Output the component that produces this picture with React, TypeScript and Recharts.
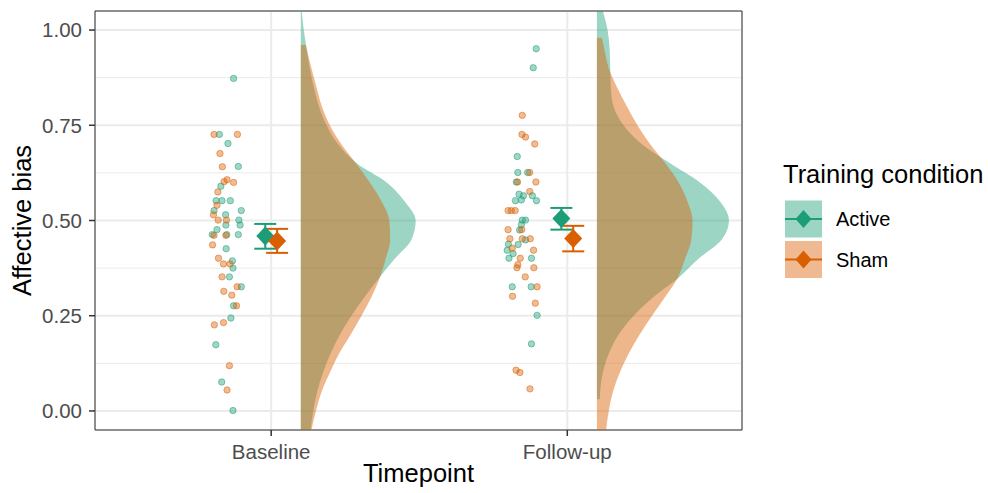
import React from 'react'
import {
  ScatterChart, Scatter, XAxis, YAxis, CartesianGrid, ReferenceArea, ErrorBar, Curve,
} from 'recharts'

const FONT = '"Liberation Sans", Arial, Helvetica, sans-serif'
const GREEN = '#1B9E77'
const ORANGE = '#D95F02'

const timepoints = ['Baseline', 'Follow-up']
const conditions = ['Active', 'Sham']
const yTicks = [0, 0.25, 0.5, 0.75, 1]
const yMinorTicks = [0.125, 0.375, 0.625, 0.875]

// raw scores: [jitter offset from timepoint, affective bias]
const baselineActive = [
  [-0.127, 0.873], [-0.175, 0.726], [-0.146, 0.702], [-0.111, 0.642], [-0.170, 0.590],
  [-0.186, 0.552], [-0.166, 0.552], [-0.138, 0.552], [-0.101, 0.526], [-0.193, 0.526],
  [-0.154, 0.515], [-0.109, 0.501], [-0.153, 0.488], [-0.105, 0.488], [-0.183, 0.476],
  [-0.199, 0.463], [-0.150, 0.463], [-0.111, 0.463], [-0.152, 0.426], [-0.131, 0.394],
  [-0.129, 0.375], [-0.141, 0.352], [-0.101, 0.326], [-0.127, 0.276], [-0.136, 0.244],
  [-0.187, 0.174], [-0.167, 0.076], [-0.129, 0.001],
]
const baselineSham = [
  [-0.193, 0.726], [-0.114, 0.726], [-0.173, 0.676], [-0.165, 0.641], [-0.149, 0.607],
  [-0.159, 0.602], [-0.127, 0.600], [-0.180, 0.575], [-0.183, 0.540], [-0.195, 0.515],
  [-0.179, 0.501], [-0.151, 0.501], [-0.193, 0.461], [-0.153, 0.461], [-0.198, 0.436],
  [-0.178, 0.401], [-0.161, 0.386], [-0.139, 0.386], [-0.166, 0.352], [-0.115, 0.326],
  [-0.160, 0.314], [-0.133, 0.304], [-0.117, 0.276], [-0.192, 0.226], [-0.161, 0.232],
  [-0.141, 0.119], [-0.149, 0.055],
]
const followupActive = [
  [-0.105, 0.951], [-0.115, 0.901], [-0.169, 0.668], [-0.167, 0.626], [-0.134, 0.626],
  [-0.172, 0.601], [-0.163, 0.569], [-0.148, 0.565], [-0.118, 0.565], [-0.175, 0.552],
  [-0.155, 0.554], [-0.104, 0.552], [-0.152, 0.501], [-0.141, 0.501], [-0.155, 0.489],
  [-0.161, 0.475], [-0.141, 0.449], [-0.166, 0.437], [-0.199, 0.438], [-0.203, 0.422],
  [-0.183, 0.413], [-0.197, 0.401], [-0.121, 0.401], [-0.186, 0.326], [-0.122, 0.326],
  [-0.102, 0.251], [-0.121, 0.176],
]
const followupSham = [
  [-0.152, 0.776], [-0.153, 0.726], [-0.141, 0.719], [-0.110, 0.701], [-0.127, 0.626],
  [-0.168, 0.601], [-0.106, 0.601], [-0.127, 0.576], [-0.200, 0.526], [-0.189, 0.526],
  [-0.176, 0.526], [-0.200, 0.476], [-0.154, 0.476], [-0.194, 0.452], [-0.152, 0.452],
  [-0.125, 0.452], [-0.186, 0.427], [-0.114, 0.422], [-0.159, 0.401], [-0.167, 0.384],
  [-0.170, 0.376], [-0.113, 0.376], [-0.142, 0.352], [-0.102, 0.326], [-0.185, 0.301],
  [-0.108, 0.283], [-0.173, 0.107], [-0.160, 0.101], [-0.126, 0.058],
]

// group means and interval bounds, per timepoint
const activeMean = [0.459, 0.505]
const activeLow = [0.426, 0.476]
const activeHigh = [0.491, 0.533]
const shamMean = [0.446, 0.453]
const shamLow = [0.415, 0.419]
const shamHigh = [0.478, 0.486]

// half-violin outlines: value levels and density width at each level
const baselineActiveLevels = [1.05, 1.0, 0.95, 0.9, 0.85, 0.8, 0.75, 0.7, 0.65, 0.6, 0.55, 0.5, 0.45, 0.4, 0.35, 0.3, 0.25, 0.2, 0.15, 0.1, 0.05, 0.0, -0.05]
const baselineActiveDensity = [0.003, 0.010, 0.020, 0.030, 0.044, 0.061, 0.087, 0.126, 0.189, 0.290, 0.351, 0.388, 0.374, 0.318, 0.265, 0.216, 0.171, 0.132, 0.100, 0.075, 0.055, 0.042, 0.033]
const baselineShamLevels = [0.961, 0.95, 0.9, 0.85, 0.8, 0.75, 0.7, 0.65, 0.6, 0.55, 0.5, 0.45, 0.4, 0.35, 0.3, 0.25, 0.2, 0.15, 0.1, 0.05, 0.0, -0.05]
const baselineShamDensity = [0.017, 0.020, 0.036, 0.053, 0.071, 0.098, 0.137, 0.186, 0.233, 0.273, 0.299, 0.302, 0.287, 0.267, 0.239, 0.205, 0.168, 0.129, 0.098, 0.070, 0.051, 0.036]
const followupActiveLevels = [1.05, 1.0, 0.95, 0.9, 0.85, 0.8, 0.75, 0.7, 0.65, 0.6, 0.55, 0.5, 0.45, 0.4, 0.35, 0.3, 0.25, 0.2, 0.15, 0.1, 0.05, 0.031]
const followupActiveDensity = [0.020, 0.036, 0.043, 0.045, 0.047, 0.056, 0.090, 0.152, 0.247, 0.348, 0.416, 0.446, 0.422, 0.344, 0.276, 0.192, 0.124, 0.073, 0.040, 0.020, 0.011, 0.010]
const followupShamLevels = [0.98, 0.95, 0.9, 0.85, 0.8, 0.75, 0.7, 0.65, 0.6, 0.55, 0.5, 0.45, 0.4, 0.35, 0.3, 0.25, 0.2, 0.15, 0.1, 0.05, 0.0, -0.05]
const followupShamDensity = [0.017, 0.025, 0.040, 0.068, 0.101, 0.137, 0.180, 0.231, 0.276, 0.306, 0.323, 0.319, 0.298, 0.273, 0.231, 0.186, 0.144, 0.107, 0.077, 0.054, 0.040, 0.031]

const DODGE = 0.02
const VIOLIN_OFFSET = 0.1

function rawPoints(pts: number[][], t: number) {
  return pts.map(([j, y]) => ({ x: t + j, y }))
}

function meanPoints(mean: number[], low: number[], high: number[], dodge: number) {
  return mean.map((m, i) => ({ x: i + 1 + dodge, y: m, err: [m - low[i], high[i] - m] }))
}

// outline first, then the two points on the violin's base line
function violinPoints(levels: number[], dens: number[], t: number) {
  const base = t + VIOLIN_OFFSET
  const outline = levels.map((y, i) => ({ x: base + dens[i], y }))
  return [...outline, { x: base, y: levels[levels.length - 1] }, { x: base, y: levels[0] }]
}

const violinShape = (color: string, opacity: number) => (props: any) => {
  const pts = props.points
  const outline = pts.slice(0, -2)
  const baseX = pts[pts.length - 1].x
  return (
    <Curve
      points={outline}
      type="monotone"
      layout="vertical"
      baseLine={baseX}
      fill={color}
      fillOpacity={opacity}
      stroke="none"
    />
  )
}

const dot = (color: string) => (p: any) => (
  <circle cx={p.cx} cy={p.cy} r={3.2} fill={color} fillOpacity={0.42}
    stroke={color} strokeOpacity={0.5} strokeWidth={1} />
)

const diamond = (color: string) => (p: any) => (
  <polygon
    points={`${p.cx},${p.cy - 9.5} ${p.cx + 9},${p.cy} ${p.cx},${p.cy + 9.5} ${p.cx - 9},${p.cy}`}
    fill={color}
  />
)

const noSymbol = () => <g />

const tickStyle = { fill: '#4D4D4D', fontSize: 20.5, fontFamily: FONT }

function LegendBox() {
  const colors = [GREEN, ORANGE]
  return (
    <svg width={988} height={493} style={{ position: 'absolute', left: 0, top: 0, pointerEvents: 'none' }}>
      <text x={783} y={183} fontSize={25.5} fontFamily={FONT} fill="#000">Training condition</text>
      {conditions.map((c, i) => {
        const top = 200.5 + i * 40.5
        return (
          <g key={c}>
            <rect x={785} y={top} width={37} height={37} fill={colors[i]} fillOpacity={0.43} />
            <line x1={785} x2={822} y1={top + 18.5} y2={top + 18.5} stroke={colors[i]} strokeWidth={2} />
            <polygon
              points={`803.5,${top + 9.5} 811.5,${top + 18.5} 803.5,${top + 27.5} 795.5,${top + 18.5}`}
              fill={colors[i]}
            />
            <text x={836} y={top + 25.5} fontSize={20} fontFamily={FONT} fill="#000">{c}</text>
          </g>
        )
      })}
    </svg>
  )
}

export default function App() {
  return (
    <div style={{ position: 'absolute', left: 0, top: 0, width: 988, height: 493, background: '#fff' }}>
      <ScatterChart width={988} height={493} margin={{ top: 11, right: 246, bottom: 0, left: 0 }}>
        <CartesianGrid stroke="#EBEBEB" strokeWidth={1} horizontalValues={yMinorTicks} vertical={false} />
        <CartesianGrid stroke="#EBEBEB" strokeWidth={2} />
        <XAxis
          type="number"
          dataKey="x"
          domain={[0.405, 2.59]}
          allowDataOverflow
          ticks={[1, 2]}
          interval={0}
          tickFormatter={(v: number) => timepoints[v - 1]}
          axisLine={false}
          tickSize={6}
          tickMargin={8}
          tickLine={{ stroke: '#333333', strokeWidth: 1.5 }}
          tick={tickStyle}
          height={63}
          label={{ value: 'Timepoint', position: 'insideBottom', offset: 11, fill: '#000', fontSize: 25.5, fontFamily: FONT }}
        />
        <YAxis
          type="number"
          dataKey="y"
          domain={[-0.05, 1.05]}
          allowDataOverflow
          ticks={yTicks}
          interval={0}
          tickFormatter={(v: number) => v.toFixed(2)}
          axisLine={false}
          tickSize={6}
          tickMargin={7}
          tickLine={{ stroke: '#333333', strokeWidth: 1.5 }}
          tick={tickStyle}
          width={95}
          label={{
            value: 'Affective bias', angle: -90, position: 'insideLeft', offset: 22,
            fill: '#000', fontSize: 25.5, fontFamily: FONT, style: { textAnchor: 'middle' },
          }}
        />

        <Scatter data={violinPoints(baselineActiveLevels, baselineActiveDensity, 1)} line={violinShape(GREEN, 0.43)} shape={noSymbol} isAnimationActive={false} />
        <Scatter data={violinPoints(followupActiveLevels, followupActiveDensity, 2)} line={violinShape(GREEN, 0.43)} shape={noSymbol} isAnimationActive={false} />
        <Scatter data={violinPoints(baselineShamLevels, baselineShamDensity, 1)} line={violinShape(ORANGE, 0.46)} shape={noSymbol} isAnimationActive={false} />
        <Scatter data={violinPoints(followupShamLevels, followupShamDensity, 2)} line={violinShape(ORANGE, 0.46)} shape={noSymbol} isAnimationActive={false} />

        <Scatter data={[...rawPoints(baselineActive, 1), ...rawPoints(followupActive, 2)]} shape={dot(GREEN)} isAnimationActive={false} />
        <Scatter data={[...rawPoints(baselineSham, 1), ...rawPoints(followupSham, 2)]} shape={dot(ORANGE)} isAnimationActive={false} />

        <Scatter data={meanPoints(activeMean, activeLow, activeHigh, -DODGE)} shape={diamond(GREEN)} isAnimationActive={false}>
          <ErrorBar dataKey="err" direction="y" width={11} stroke={GREEN} strokeWidth={2} />
        </Scatter>
        <Scatter data={meanPoints(shamMean, shamLow, shamHigh, DODGE)} shape={diamond(ORANGE)} isAnimationActive={false}>
          <ErrorBar dataKey="err" direction="y" width={11} stroke={ORANGE} strokeWidth={2} />
        </Scatter>

        <ReferenceArea x1={0.405} x2={2.59} y1={-0.05} y2={1.05} fill="none" stroke="#333333" strokeWidth={1} />
      </ScatterChart>
      <LegendBox />
    </div>
  )
}
